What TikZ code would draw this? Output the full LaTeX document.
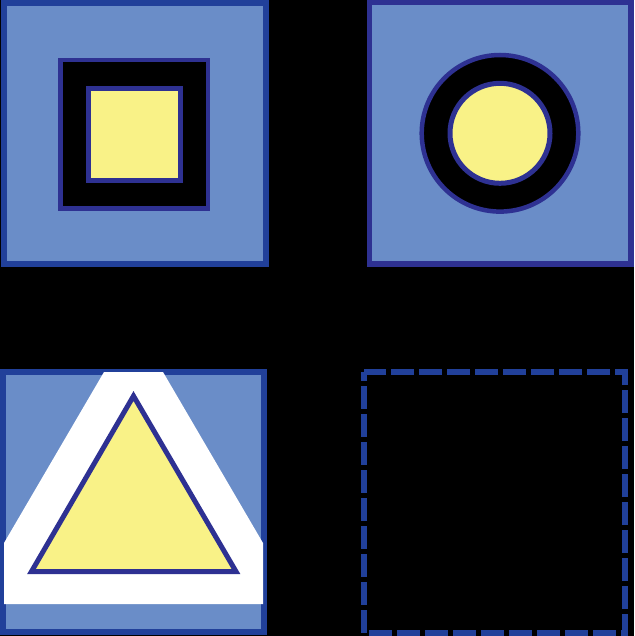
\documentclass[tikz,border=0pt]{standalone}
\definecolor{framedeep}{HTML}{21409A}
\definecolor{framefill}{HTML}{6A8DC8}
\definecolor{shapeline}{HTML}{2E3192}
\definecolor{shapefill}{HTML}{F9F287}
\tikzset{
  frame/.style={draw=framedeep,fill=framefill,line width=6pt},
  hole/.style={draw=shapeline,fill=black,line width=4.5pt},
  core/.style={draw=shapeline,fill=shapefill,line width=5pt,line join=miter},
  emptyframe/.style={draw=framedeep,line width=6pt,dash pattern=on 23pt off 5pt,dash phase=14pt}
}
\begin{document}
\begin{tikzpicture}[x=1pt,y=-1pt]
  \useasboundingbox (0,0) rectangle (634,636);
  \fill[black] (0,0) rectangle (634,636);
  % square in square
  \begin{scope}
    \draw[frame] (4,3) rectangle (265.5,264);
    \draw[hole] (60.5,60) rectangle (208,208.3);
    \draw[core] (88.5,88.5) rectangle (180.5,180.5);
  \end{scope}
  % circle in circle
  \begin{scope}
    \draw[frame,draw=shapeline,line width=5.5pt] (369.5,2.5) rectangle (631,264);
    \draw[hole] (500,133.3) circle (78.3);
    \draw[core] (500,133.3) circle (50);
  \end{scope}
  % triangle
  \begin{scope}
    \draw[frame] (3,372) rectangle (263.5,632);
    \fill[white] (104,372) -- (163,372) -- (263,543) -- (263,604) -- (4,604) -- (4,543) -- cycle;
    \draw[core] (133.5,396) -- (236,571.5) -- (31.5,571.5) -- cycle;
  \end{scope}
  % empty slot
  \begin{scope}
    \draw[emptyframe] (364,372) rectangle (625,633);
  \end{scope}
\end{tikzpicture}
\end{document}
